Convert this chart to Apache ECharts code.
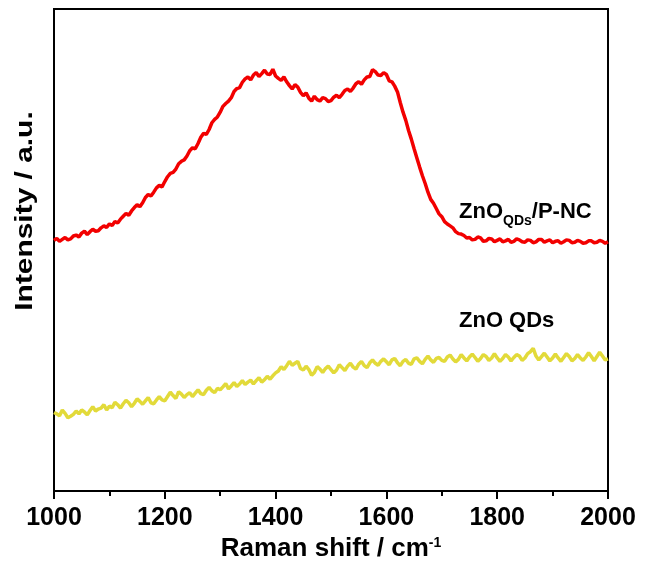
<!DOCTYPE html>
<html>
<head>
<meta charset="utf-8">
<script src="https://cdn.jsdelivr.net/npm/echarts@6/dist/echarts.min.js"></script>
<style>html,body{margin:0;padding:0;background:#fff}#c{width:647px;height:570px}</style>
</head>
<body>
<div id="c"></div>
<script>
// Raman shift (cm^-1)
var ramanShift = [
1000,1005,1010,1015,1020,1025,1030,1035,1040,1045,1050,1055,1060,1065,1070,1075,1080,1085,1090,1095,
1100,1105,1110,1115,1120,1125,1130,1135,1140,1145,1150,1155,1160,1165,1170,1175,1180,1185,1190,1195,
1200,1205,1210,1215,1220,1225,1230,1235,1240,1245,1250,1255,1260,1265,1270,1275,1280,1285,1290,1295,
1300,1305,1310,1315,1320,1325,1330,1335,1340,1345,1350,1355,1360,1365,1370,1375,1380,1385,1390,1395,
1400,1405,1410,1415,1420,1425,1430,1435,1440,1445,1450,1455,1460,1465,1470,1475,1480,1485,1490,1495,
1500,1505,1510,1515,1520,1525,1530,1535,1540,1545,1550,1555,1560,1565,1570,1575,1580,1585,1590,1595,
1600,1605,1610,1615,1620,1625,1630,1635,1640,1645,1650,1655,1660,1665,1670,1675,1680,1685,1690,1695,
1700,1705,1710,1715,1720,1725,1730,1735,1740,1745,1750,1755,1760,1765,1770,1775,1780,1785,1790,1795,
1800,1805,1810,1815,1820,1825,1830,1835,1840,1845,1850,1855,1860,1865,1870,1875,1880,1885,1890,1895,
1900,1905,1910,1915,1920,1925,1930,1935,1940,1945,1950,1955,1960,1965,1970,1975,1980,1985,1990,1995,2000];

// ZnO QDs / P-NC intensity (a.u., offset)
var znoPNC = [
52.0,52.4,51.8,52.2,52.6,52.1,52.3,52.9,53.1,52.7,53.5,53.9,53.2,53.8,54.3,53.9,54.0,54.6,55.0,54.7,
55.4,55.1,55.9,55.6,56.4,57.0,57.6,57.2,58.1,58.8,59.4,59.0,59.8,60.9,61.5,61.2,62.0,62.9,63.4,63.1,
64.2,65.2,65.9,66.1,66.8,67.9,68.4,68.7,69.5,70.6,71.2,71.0,72.1,73.4,74.2,74.0,75.0,76.4,77.1,77.6,
78.6,79.8,80.4,80.9,81.6,82.9,83.5,83.7,84.8,85.5,85.9,85.3,86.3,86.8,86.0,86.6,87.3,86.5,86.4,87.5,
86.1,85.6,85.2,85.9,84.9,84.1,83.4,84.3,83.8,82.7,82.0,82.6,81.5,80.9,81.9,81.2,80.9,81.6,81.4,80.8,
81.0,81.7,82.1,81.6,82.3,83.1,83.4,82.9,83.6,84.5,84.9,84.4,85.3,85.9,86.0,87.4,87.0,86.3,86.2,86.8,
86.4,85.1,84.9,84.0,82.8,80.6,78.6,76.9,74.8,73.0,71.0,69.1,67.2,65.4,63.8,62.0,60.5,59.7,58.6,57.5,
56.9,55.9,55.4,55.0,54.6,53.8,53.4,53.3,53.0,52.5,52.6,52.1,52.2,52.7,52.5,51.8,51.9,52.4,52.3,51.7,
52.0,52.3,51.7,51.9,52.2,51.6,51.8,52.3,52.1,51.7,51.6,52.1,52.0,51.5,51.7,52.2,52.2,51.6,51.9,52.1,
51.5,51.8,51.9,51.4,51.7,52.1,52.0,51.5,51.6,52.0,51.8,51.4,51.5,51.9,51.9,51.5,51.6,52.0,51.8,51.4,51.7];

// ZnO QDs intensity (a.u., offset)
var znoQDs = [
16.3,16.0,15.6,16.8,16.1,15.2,15.5,15.9,16.6,16.0,16.8,16.4,15.8,16.7,17.5,16.6,17.0,17.2,17.9,16.8,
17.6,17.3,18.4,17.9,17.2,18.1,18.8,18.3,17.5,18.2,19.1,18.6,18.0,18.7,19.4,18.3,18.1,18.9,19.6,18.9,
18.7,19.6,20.5,19.8,19.2,20.6,20.1,19.4,20.0,20.4,19.6,20.3,21.0,20.2,20.0,20.9,21.5,20.8,20.4,21.3,
21.0,21.6,22.3,21.2,21.8,22.5,21.7,22.2,22.9,22.1,22.6,23.0,22.2,22.9,23.5,22.6,23.1,23.8,23.2,23.9,
24.5,24.9,25.8,25.2,26.0,26.9,26.1,26.5,26.9,25.4,25.1,25.9,25.2,24.0,24.6,25.8,25.3,24.6,25.4,25.9,
25.2,24.5,25.1,26.2,25.6,25.0,25.9,26.5,25.7,25.3,26.3,26.9,26.0,25.6,26.6,27.2,26.5,26.1,26.9,27.4,
26.8,26.2,27.2,27.5,26.6,26.0,26.9,27.3,26.5,26.3,27.4,27.6,26.9,26.4,27.3,28.0,27.2,26.7,27.5,27.7,
27.1,26.9,27.8,28.2,27.4,26.8,27.3,28.3,27.6,27.0,27.8,28.4,27.7,26.9,27.5,28.3,27.9,27.1,27.6,28.5,
27.6,26.9,27.5,28.3,27.8,27.0,27.7,28.3,28.0,27.1,27.6,28.5,28.9,29.6,28.0,27.2,27.9,28.6,27.8,27.0,
27.6,28.4,27.6,26.9,27.7,28.5,27.9,27.0,27.5,28.3,27.6,27.1,27.8,28.7,27.9,27.0,27.9,28.8,28.0,27.2,27.4];

function pairs(xs, ys){ var o=[]; for(var i=0;i<xs.length;i++) o.push([xs[i], ys[i]]); return o; }

var FONT = '"Liberation Sans", Arial, sans-serif';
var chart = echarts.init(document.getElementById('c'), null, {renderer:'canvas'});
chart.setOption({
  backgroundColor:'#fff',
  animation:false,
  grid:{left:54, right:39, top:9, bottom:79, show:true, borderColor:'#000', borderWidth:2, backgroundColor:'transparent'},
  xAxis:{
    type:'value', min:1000, max:2000, interval:200,
    axisLine:{show:true, lineStyle:{color:'#000', width:2}},
    axisTick:{show:true, inside:false, length:8, lineStyle:{color:'#000', width:2}},
    minorTick:{show:true, splitNumber:2, length:5, lineStyle:{color:'#000', width:2}},
    splitLine:{show:false},
    axisLabel:{color:'#000', fontFamily:FONT, fontWeight:'bold', fontSize:25, margin:15,
      formatter:function(v){ return String(v); }},
    name:'{a|Raman shift / cm}{s|-1}',
    nameLocation:'middle', nameGap:44,
    nameTextStyle:{rich:{
      a:{color:'#000', fontFamily:FONT, fontWeight:'bold', fontSize:26, verticalAlign:'bottom'},
      s:{color:'#000', fontFamily:FONT, fontWeight:'bold', fontSize:14, verticalAlign:'bottom', padding:[0,0,12,0]}
    }}
  },
  yAxis:{
    type:'value', min:0, max:100,
    axisLine:{show:false}, axisTick:{show:false}, axisLabel:{show:false}, splitLine:{show:false}
  },
  series:[
    {name:'ZnO QDs/P-NC', type:'line', showSymbol:false, symbol:'none', data:pairs(ramanShift, znoPNC),
     lineStyle:{color:'#f20000', width:3.5}, itemStyle:{color:'#f20000'}},
    {name:'ZnO QDs', type:'line', showSymbol:false, symbol:'none', data:pairs(ramanShift, znoQDs),
     lineStyle:{color:'#e2da3a', width:3.5}, itemStyle:{color:'#e2da3a'}}
  ],
  graphic:[
    {type:'text', x:26, y:211, rotation:Math.PI/2, scaleX:1.3,
     style:{text:'Intensity / a.u.', fill:'#000', font:'bold 23px '+FONT, align:'center', verticalAlign:'middle'}},
    {type:'text', x:459, y:212,
     style:{text:'{a|ZnO}{b|QDs}{a|/P-NC}', align:'left', verticalAlign:'middle',
       rich:{
         a:{fill:'#000', fontFamily:FONT, fontWeight:'bold', fontSize:22, verticalAlign:'bottom'},
         b:{fill:'#000', fontFamily:FONT, fontWeight:'bold', fontSize:14, verticalAlign:'bottom', padding:[0,0,-5,0]}
       }}},
    {type:'text', x:459, y:321,
     style:{text:'ZnO QDs', fill:'#000', font:'bold 22px '+FONT, align:'left', verticalAlign:'middle'}}
  ]
});
</script>
</body>
</html>
